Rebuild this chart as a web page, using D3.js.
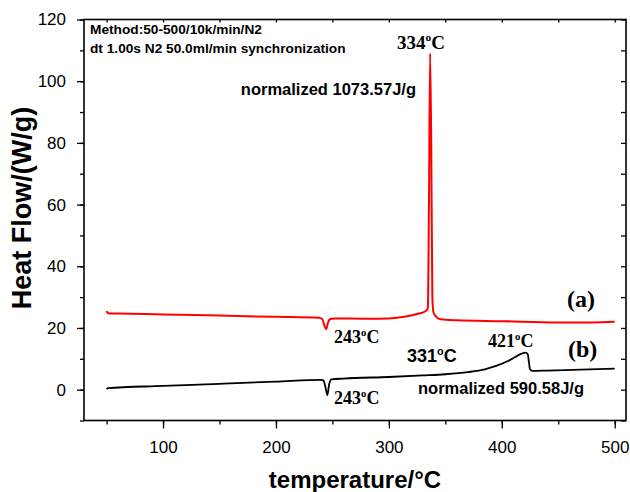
<!DOCTYPE html>
<html>
<head>
<meta charset="utf-8">
<script src="https://cdn.jsdelivr.net/npm/d3@7"></script>
<style>
  body { margin: 0; background: #fff; }
  svg { display: block; }
  .tick text { font-family: 'Liberation Sans', Arial, sans-serif; font-size: 17px; fill: #000; }
  .tick line { stroke: #000; stroke-width: 1.3px; }
  .ann { font-family: 'Liberation Sans', Arial, sans-serif; font-weight: bold; fill: #000; }
  .tim { font-family: 'Liberation Serif', 'Times New Roman', serif; font-weight: bold; fill: #000; }
</style>
</head>
<body>
<div id="chart"></div>
<script>
// DSC curves, temperature (C) vs heat flow (W/g)
var tempA = [50, 51, 60, 100, 150, 200, 238, 241, 243, 244.5, 246, 248, 252, 280, 300, 315, 325, 333, 334.5, 335.5, 336.5, 337.5, 338.5, 339.5, 342, 346, 360, 400, 450, 480, 500];
var flowA = [25.5, 24.8, 24.7, 24.4, 24.0, 23.6, 23.3, 22.9, 20.6, 19.6, 21.6, 22.9, 23.1, 23.0, 23.1, 23.7, 24.5, 25.6, 26.5, 60, 109, 80, 30, 25, 23.6, 22.8, 22.5, 22.2, 21.8, 21.8, 22.0];

var tempB = [50, 51, 100, 150, 200, 240, 242, 244, 245.5, 247, 249, 260, 300, 330, 350, 370, 385, 395, 405, 412, 417, 421, 423, 424, 425, 427, 440, 470, 500];
var flowB = [0.1, 0.5, 1.2, 1.9, 2.6, 3.2, 3.0, 0.5, -1.8, 1.5, 3.3, 3.6, 4.1, 4.6, 5.0, 5.7, 6.6, 7.7, 9.2, 10.6, 11.6, 12.0, 11.5, 9.0, 6.6, 6.1, 6.2, 6.5, 6.8];

var xTicks = [100, 200, 300, 400, 500];
var yTicks = [0, 20, 40, 60, 80, 100, 120];

var width = 630, height = 492;
var plotL = 84, plotR = 626, plotT = 19.5, plotB = 420.5;

var svg = d3.select('#chart').append('svg')
    .attr('width', width)
    .attr('height', height);

var x = d3.scaleLinear().domain([30, 510]).range([plotL, plotR]);
var y = d3.scaleLinear().domain([-10, 120]).range([plotB, plotT]);

var minorX = d3.range(50, 501, 50);
var minorY = d3.range(-10, 121, 10);

function noDomain(g) { g.select('.domain').remove(); }

// minor ticks first, then major with labels
svg.append('g')
    .attr('transform', 'translate(0,' + plotB + ')')
    .call(d3.axisBottom(x).tickValues(minorX).tickSize(4).tickFormat(''))
    .call(noDomain);
svg.append('g')
    .attr('transform', 'translate(0,' + plotB + ')')
    .call(d3.axisBottom(x).tickValues(xTicks).tickSize(8).tickPadding(12).tickFormat(d3.format('d')))
    .call(noDomain);

svg.append('g')
    .attr('transform', 'translate(' + plotL + ',0)')
    .call(d3.axisLeft(y).tickValues(minorY).tickSize(4).tickFormat(''))
    .call(noDomain);
svg.append('g')
    .attr('transform', 'translate(' + plotL + ',0)')
    .call(d3.axisLeft(y).tickValues(yTicks).tickSize(7).tickPadding(11).tickFormat(d3.format('d')))
    .call(noDomain);

// inner ticks on top and right
svg.append('g')
    .attr('transform', 'translate(0,' + plotT + ')')
    .call(d3.axisBottom(x).tickValues(minorX).tickSize(3).tickFormat(''))
    .call(noDomain);
svg.append('g')
    .attr('transform', 'translate(' + plotR + ',0)')
    .call(d3.axisRight(y).tickValues(minorY).tickSize(-5).tickFormat(''))
    .call(noDomain);

svg.append('rect')
    .attr('x', plotL)
    .attr('y', plotT)
    .attr('width', plotR - plotL)
    .attr('height', plotB - plotT)
    .attr('fill', 'none')
    .attr('stroke', '#000')
    .attr('stroke-width', 1.6);

var line = d3.line()
    .x(function(d) { return x(d[0]); })
    .y(function(d) { return y(d[1]); })
    .curve(d3.curveMonotoneX);

svg.append('path')
    .datum(d3.zip(tempA, flowA))
    .attr('d', line)
    .attr('fill', 'none')
    .attr('stroke', '#ff0000')
    .attr('stroke-width', 2);

svg.append('path')
    .datum(d3.zip(tempB, flowB))
    .attr('d', line)
    .attr('fill', 'none')
    .attr('stroke', '#000')
    .attr('stroke-width', 1.8);

// axis titles
svg.append('text')
    .attr('class', 'ann')
    .attr('transform', 'translate(31,208) rotate(-90)')
    .attr('text-anchor', 'middle')
    .style('font-size', '27px')
    .text('Heat Flow/(W/g)');

svg.append('text')
    .attr('class', 'ann')
    .attr('x', 355)
    .attr('y', 488)
    .attr('text-anchor', 'middle')
    .style('font-size', '24px')
    .text('temperature/\u00b0C');

// annotations
function plain(txt, px, py, size, anchor) {
  svg.append('text').attr('class', 'ann')
      .attr('x', px).attr('y', py)
      .attr('text-anchor', anchor || 'start')
      .style('font-size', size + 'px')
      .text(txt);
}
function degree(num, px, py, size, cls) {
  var t = svg.append('text').attr('class', cls)
      .attr('x', px).attr('y', py)
      .style('font-size', size + 'px');
  t.append('tspan').text(num);
  t.append('tspan').attr('dy', -size * 0.4).style('font-size', (size * 0.6) + 'px').text('o');
  t.append('tspan').attr('dy', size * 0.4).text('C');
}

plain('Method:50-500/10k/min/N2', 90, 34, 13.7);
plain('dt 1.00s N2 50.0ml/min synchronization', 90, 53, 13.7);
plain('normalized 1073.57J/g', 416, 95, 16.5, 'end');
plain('normalized 590.58J/g', 418, 394, 16.5);

degree('334', 397, 49, 19, 'tim');
degree('243', 334, 343, 18, 'tim');
degree('243', 334, 404, 18, 'tim');
degree('421', 488, 347, 18, 'tim');
degree('331', 407, 362, 18, 'ann');

svg.append('text').attr('class', 'tim')
    .attr('x', 567).attr('y', 307)
    .style('font-size', '24px')
    .text('(a)');
svg.append('text').attr('class', 'tim')
    .attr('x', 568).attr('y', 357)
    .style('font-size', '24px')
    .text('(b)');
</script>
</body>
</html>
